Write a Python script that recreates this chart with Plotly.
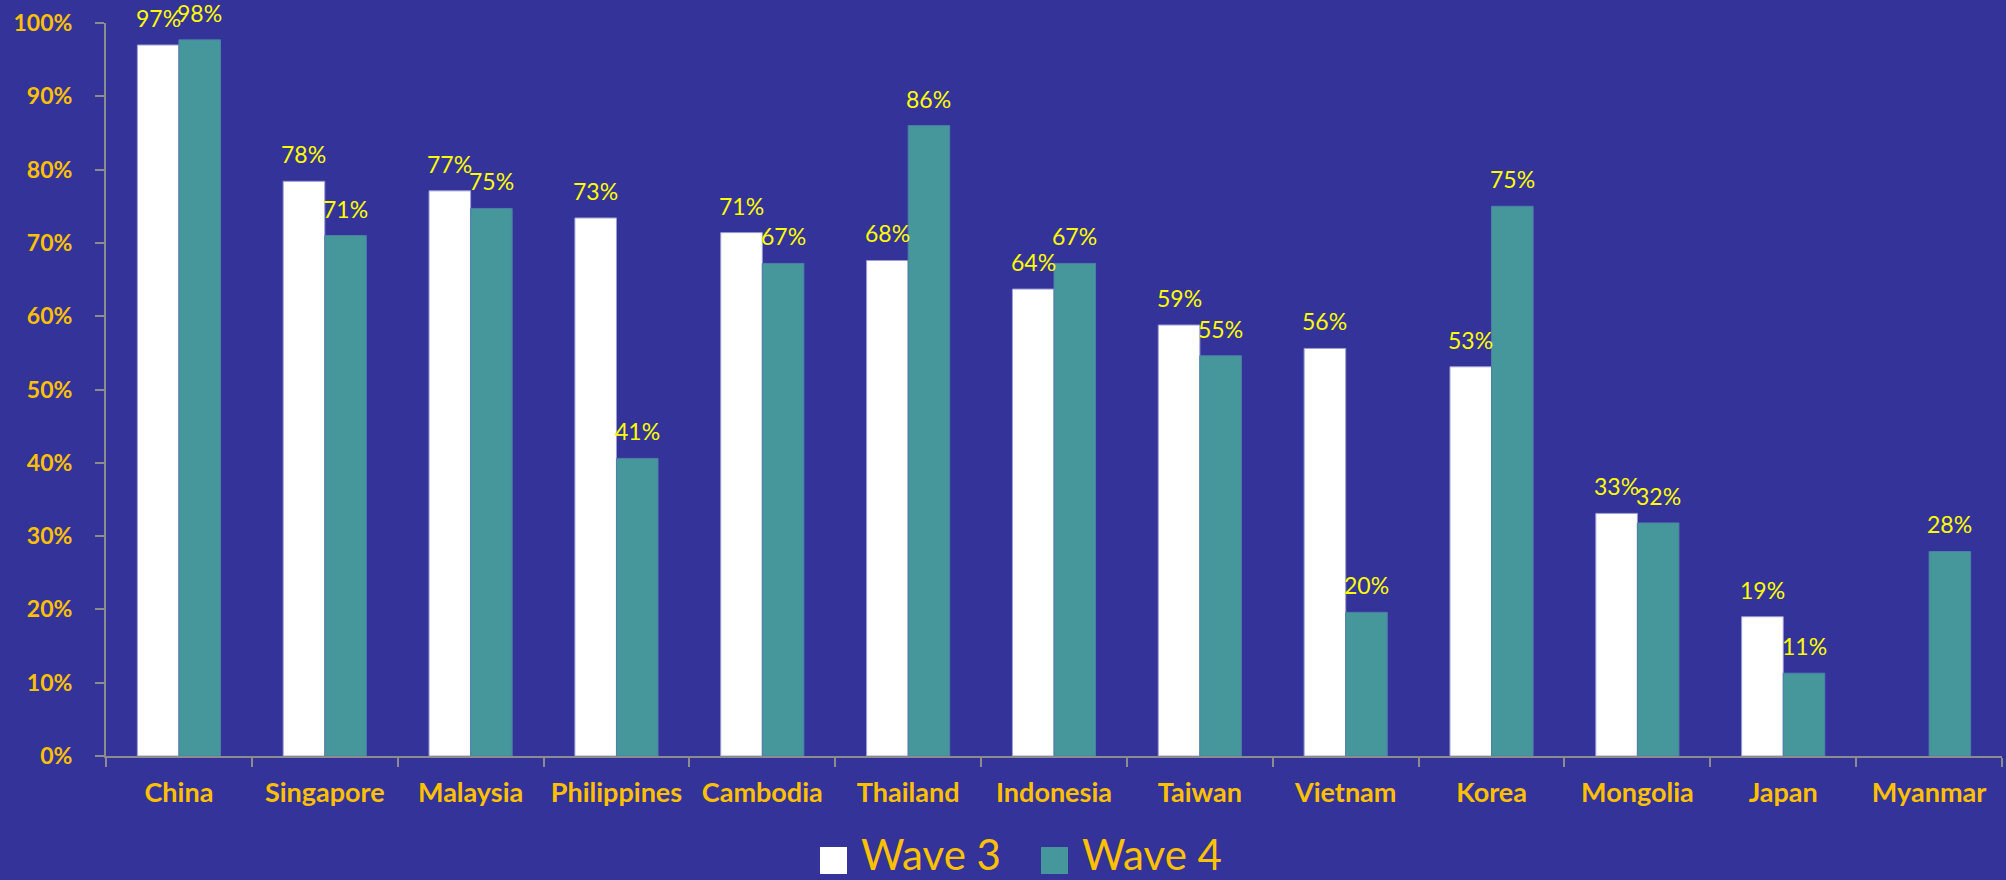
import plotly.graph_objects as go

countries = ["China", "Singapore", "Malaysia", "Philippines", "Cambodia", "Thailand",
             "Indonesia", "Taiwan", "Vietnam", "Korea", "Mongolia", "Japan", "Myanmar"]
wave3 = [97.0, 78.4, 77.1, 73.4, 71.4, 67.6, 63.7, 58.8, 55.6, 53.1, 33.1, 19.0, None]
wave4 = [97.7, 71.0, 74.7, 40.6, 67.2, 86.0, 67.2, 54.6, 19.6, 75.0, 31.8, 11.3, 27.9]
y_ticks = list(range(0, 101, 10))
y_tick_labels = [f"{v}%" for v in y_ticks]

W, H = 2006, 880
ML, MR, MT, MB = 106, 4, 23, 124
BARGAP = 0.43

BG = "#333399"
WHITE = "#FFFFFF"
TEAL = "#45979C"
ORANGE = "#FFC000"
YELLOW = "#FFFF00"
AXIS = "#8C8C8C"
FONT = "Lato"

fig = go.Figure()
fig.add_bar(name="Wave 3", x=countries, y=wave3, marker=dict(color=WHITE, line=dict(color="#9E9ED6", width=1)))
fig.add_bar(name="Wave 4", x=countries, y=wave4, marker=dict(color=TEAL, line=dict(color="#4F7FA8", width=1)))

# value labels above each bar
plot_w = W - ML - MR
half_bar = plot_w / len(countries) * (1 - BARGAP) / 4
annotations = []
for series, dx in ((wave3, -half_bar), (wave4, half_bar)):
    for c, v in zip(countries, series):
        if v is None:
            continue
        annotations.append(dict(
            x=c, y=v, xref="x", yref="y", text=f"{round(v)}%", showarrow=False,
            xshift=dx, yshift=11, yanchor="bottom", xanchor="center",
            font=dict(family=FONT, size=23, color=YELLOW)))

# legend drawn as large swatches with text
plot_h = H - MT - MB
def px_x(p):
    return (p - ML) / plot_w
def px_y(p):
    return (H - MB - p) / plot_h

shapes = []
for (x0, label, color) in ((820, "Wave 3", WHITE), (1041, "Wave 4", TEAL)):
    shapes.append(dict(type="rect", xref="paper", yref="paper",
                       x0=px_x(x0), x1=px_x(x0 + 27), y0=px_y(874), y1=px_y(847),
                       fillcolor=color, line=dict(width=0)))
    annotations.append(dict(x=px_x(x0 + 40), y=px_y(880), xref="paper", yref="paper",
                            text=label, showarrow=False, xanchor="left", yanchor="bottom",
                            borderpad=0,
                            font=dict(family=FONT, size=42, color=ORANGE)))

fig.update_layout(
    width=W, height=H,
    margin=dict(l=ML, r=MR, t=MT, b=MB),
    paper_bgcolor=BG, plot_bgcolor=BG,
    barmode="group", bargap=BARGAP, bargroupgap=0,
    showlegend=False,
    annotations=annotations, shapes=shapes,
    xaxis=dict(showgrid=False, showline=True, linecolor=AXIS, linewidth=2,
               ticks="outside", tickson="boundaries", ticklen=9, tickcolor=AXIS, tickwidth=2,
               tickfont=dict(family=FONT, size=27, color=ORANGE, weight="bold"),
               ticklabelstandoff=12),
    yaxis=dict(range=[0, 100], tickmode="array", tickvals=y_ticks, ticktext=y_tick_labels,
               showgrid=False, showline=True, linecolor=AXIS, linewidth=2, zeroline=False,
               ticks="outside", ticklen=9, tickcolor=AXIS, tickwidth=2,
               tickfont=dict(family=FONT, size=23, color=ORANGE, weight="bold"),
               ticklabelstandoff=18),
    font=dict(family=FONT),
)
fig.update_traces(cliponaxis=False)

fig.write_html("out.html")
